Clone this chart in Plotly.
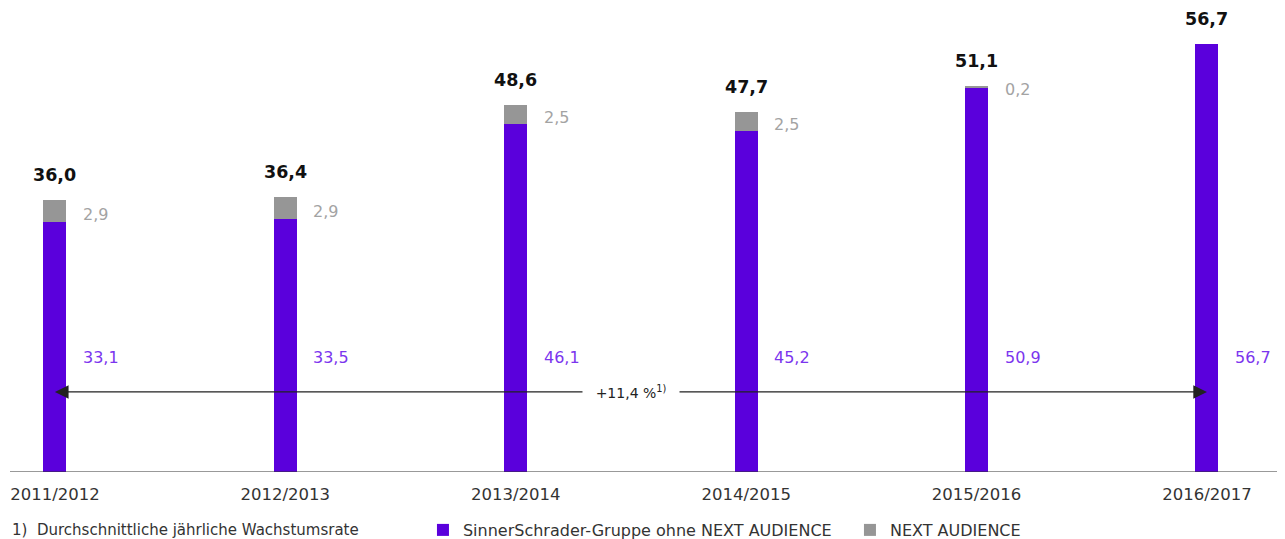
import plotly.graph_objects as go

categories = ["2011/2012", "2012/2013", "2013/2014", "2014/2015", "2015/2016", "2016/2017"]
core_values = [33.1, 33.5, 46.1, 45.2, 50.9, 56.7]
next_values = [2.9, 2.9, 2.5, 2.5, 0.2, 0.0]
total_values = [36.0, 36.4, 48.6, 47.7, 51.1, 56.7]
cagr_label = "+11,4 %<sup>1)</sup>"
footnote = "1)  Durchschnittliche jährliche Wachstumsrate"
series_names = ["SinnerSchrader-Gruppe ohne NEXT AUDIENCE", "NEXT AUDIENCE"]

PURPLE = "#5A00DC"
PURPLE_TXT = "#7B35EE"
GRAY = "#969696"
GRAY_TXT = "#A3A3A3"
FONT = "DejaVu Sans"

W, H = 1277, 531          # page body has an 8px margin
ML, MR, MT, MB = 2, 2, 0, 67
PLOT_H = H - MT - MB

def fmt(v):
    return f"{v:.1f}".replace(".", ",")

x = list(range(len(categories)))

fig = go.Figure()
fig.add_bar(x=x, y=core_values, name=series_names[0], marker=dict(color=PURPLE, line=dict(width=0)),
            width=0.1, hoverinfo="skip")
fig.add_bar(x=x, y=next_values, name=series_names[1], marker=dict(color=GRAY, line=dict(width=0)),
            width=0.1, hoverinfo="skip")

ann = []
for i in x:
    ann.append(dict(x=i, y=total_values[i], text=fmt(total_values[i]), showarrow=False,
                    yanchor="middle", yshift=25, font=dict(family=FONT, size=17.5, color="#111111", weight="bold")))
    if next_values[i] > 0:
        ann.append(dict(x=i, y=total_values[i] - next_values[i] / 2, text=fmt(next_values[i]), showarrow=False,
                        xanchor="left", xshift=26, yanchor="middle", yshift=-3,
                        font=dict(family=FONT, size=16, color=GRAY_TXT)))
    ann.append(dict(x=i, y=15.2, text=fmt(core_values[i]), showarrow=False,
                    xanchor="left", xshift=26, yanchor="middle",
                    font=dict(family=FONT, size=16, color=PURPLE_TXT)))

arrow_y = 10.6
mid = (x[0] + x[-1]) / 2
for end in (x[0], x[-1]):
    ann.append(dict(x=end, y=arrow_y, ax=mid, ay=arrow_y, axref="x", ayref="y", xref="x", yref="y",
                    text="", showarrow=True, arrowhead=2, arrowsize=2.1, arrowwidth=1.3,
                    arrowcolor="#222222", standoff=0, startstandoff=0))
ann.append(dict(x=mid, y=arrow_y, text=cagr_label, showarrow=False, bgcolor="white",
                borderpad=0, width=96, font=dict(family=FONT, size=14, color="#222222")))
ann.append(dict(x=0, xref="paper", xanchor="left", y=-58 / PLOT_H, yref="paper", yanchor="middle",
                text=footnote, showarrow=False, font=dict(family=FONT, size=15, color="#333333")))

fig.update_layout(
    width=W, height=H,
    margin=dict(l=ML, r=MR, t=MT, b=MB, pad=0, autoexpand=False),
    plot_bgcolor="white", paper_bgcolor="white",
    barmode="stack", showlegend=True,
    legend=dict(orientation="h", x=0.3244, xanchor="left", y=-58 / PLOT_H, yanchor="middle",
                font=dict(family=FONT, size=16, color="#333333"), traceorder="normal",
                entrywidth=382, entrywidthmode="pixels"),
    xaxis=dict(range=[-0.195, 5.33], tickvals=x, ticktext=categories, showgrid=False, zeroline=False,
               showline=False, ticks="outside", ticklen=7, tickcolor="white", automargin=False,
               tickfont=dict(family=FONT, size=16.5, color="#333333"), fixedrange=True),
    yaxis=dict(range=[0, PLOT_H / 7.55], visible=False, fixedrange=True, automargin=False),
    annotations=ann,
    shapes=[dict(type="line", xref="paper", yref="y", x0=0, x1=1, y0=0, y1=0,
                 line=dict(color="#333333", width=1))],
    font=dict(family=FONT),
)

fig.write_html("out.html")
